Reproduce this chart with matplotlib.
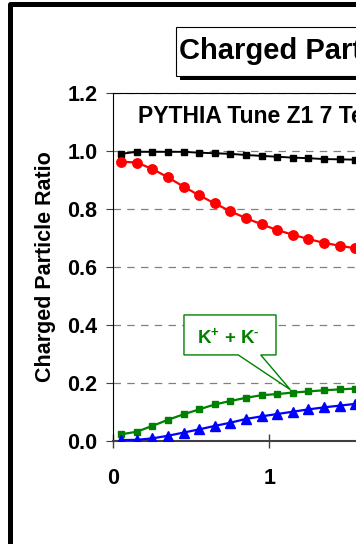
import matplotlib
matplotlib.use('Agg')
import matplotlib.pyplot as plt
from matplotlib.patches import Rectangle, Polygon

plt.rcParams['font.family'] = ['Liberation Sans', 'DejaVu Sans']
plt.rcParams['font.weight'] = 'bold'
plt.rcParams['mathtext.fontset'] = 'custom'
plt.rcParams['mathtext.rm'] = 'Liberation Sans:bold'
plt.rcParams['mathtext.it'] = 'Liberation Sans:bold'
plt.rcParams['mathtext.bf'] = 'Liberation Sans:bold'

# data (only the part left of the crop is visible)
pt = [0.05, 0.15, 0.25, 0.35, 0.45, 0.55, 0.65, 0.75,
      0.85, 0.95, 1.05, 1.15, 1.25, 1.35, 1.45, 1.55]
ratio_sum = [0.990, 0.997, 0.997, 0.997, 0.997, 0.994, 0.992, 0.990,
             0.986, 0.983, 0.980, 0.977, 0.975, 0.972, 0.971, 0.970]
ratio_pions = [0.963, 0.960, 0.938, 0.909, 0.877, 0.847, 0.819, 0.792,
               0.768, 0.747, 0.727, 0.711, 0.696, 0.683, 0.673, 0.664]
ratio_kaons = [0.022, 0.031, 0.051, 0.072, 0.091, 0.108, 0.125, 0.137,
               0.148, 0.157, 0.161, 0.166, 0.170, 0.174, 0.177, 0.180]
ratio_protons = [0.002, 0.003, 0.008, 0.017, 0.028, 0.039, 0.051, 0.062,
                 0.075, 0.084, 0.092, 0.100, 0.108, 0.115, 0.121, 0.127]

y_ticks = [0.0, 0.2, 0.4, 0.6, 0.8, 1.0, 1.2]
x_ticks = [0, 1, 2]

W, H = 356, 544
fig = plt.figure(figsize=(W / 100, H / 100), dpi=100)

# outer chart frame
fig.patches.append(Rectangle((9.5 / W, -10 / H), 2.0, (H - 4 + 10) / H,
                             transform=fig.transFigure, fill=False,
                             ec='black', lw=3.6, joinstyle='round'))

# title box with shadow
fig.patches.append(Rectangle((180 / W, (H - 80) / H), 400 / W, 49 / H,
                             transform=fig.transFigure, fc='black', ec='none'))
fig.patches.append(Rectangle((176 / W, (H - 76) / H), 400 / W, 49 / H,
                             transform=fig.transFigure, fc='white', ec='black', lw=0.8))
fig.text(179 / W, (H - 59) / H, 'Charged Particle Ratios', fontsize=21,
         fontweight='bold', ha='left', va='baseline')

ax = fig.add_axes([113.3 / W, (H - 440.7) / H, 312 / W, 347.7 / H])
ax.set_xlim(0, 2)
ax.set_ylim(0, 1.2)
ax.set_axisbelow(True)

ax.plot(pt, ratio_sum, color='black', lw=1.4, marker='s', ms=4.6, zorder=4)
ax.plot(pt, ratio_pions, color='#ff0000', lw=1.6, marker='o', ms=6.8, zorder=4)
ax.plot(pt, ratio_kaons, color='#008000', lw=1.6, marker='s', ms=5.0, zorder=4)
ax.plot(pt, ratio_protons, color='#0000ff', lw=1.6, marker='^', ms=7.6, zorder=4)

ax.set_yticks(y_ticks)
ax.set_yticklabels([f'{v:.1f}' for v in y_ticks])
ax.set_xticks(x_ticks)
ax.set_xticklabels([str(v) for v in x_ticks])
ax.tick_params(axis='y', direction='out', length=5, width=0.8, color='#404040',
               pad=6.5, labelsize=15.5)
ax.tick_params(axis='x', direction='inout', length=10, width=1.0, color='#404040',
               pad=14.4, labelsize=15.5)
for lab in ax.get_xticklabels() + ax.get_yticklabels():
    lab.set_fontweight('bold')

ax.yaxis.grid(True, color='#808080', lw=0.9, linestyle=(0, (6, 5)))
ax.spines['left'].set_linewidth(0.8)
ax.spines['top'].set_linewidth(0.8)
ax.spines['bottom'].set_linewidth(1.5)
ax.spines['bottom'].set_color('#404040')

ax.set_ylabel('Charged Particle Ratio', fontsize=15.5, fontweight='bold')
ax.yaxis.set_label_coords(-0.185, 0.5)

ax.text(0.16, 1.095, 'PYTHIA Tune Z1 7 TeV', fontsize=16.5,
        fontweight='bold', ha='left', va='baseline')

# callout for the kaon curve
k = pt.index(1.15)
tip = (pt[k] - 0.015, ratio_kaons[k] + 0.01)
bx0, bx1, by0, by1 = 0.453, 1.043, 0.296, 0.434
callout = Polygon([(bx0, by1), (bx1, by1), (bx1, by0), (0.945, by0), tip,
                   (0.801, by0), (bx0, by0)], closed=True, fc='white',
                  ec='#008000', lw=1.0, zorder=1.5)
ax.add_patch(callout)
ax.text(0.735, 0.336, r'K$^{+}$ + K$^{\text{-}}$', color='#008000', fontsize=13.5,
        fontweight='bold', ha='center', va='baseline', zorder=3)

fig.savefig('out.png', dpi=100)
